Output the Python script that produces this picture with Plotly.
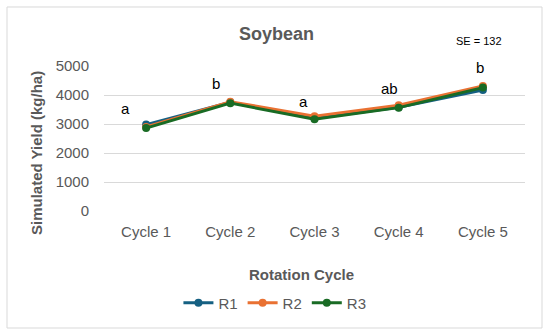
import plotly.graph_objects as go

categories = ["Cycle 1", "Cycle 2", "Cycle 3", "Cycle 4", "Cycle 5"]
r1 = [2980, 3750, 3200, 3580, 4170]
r2 = [2900, 3770, 3270, 3650, 4310]
r3 = [2860, 3720, 3165, 3565, 4255]
letters = ["a", "b", "a", "ab", "b"]
y_ticks = [0, 1000, 2000, 3000, 4000, 5000]

FONT = "Liberation Sans"
GRAY = "#595959"

fig = go.Figure()
for name, vals, color in [("R1", r1, "#156082"), ("R2", r2, "#E97132"), ("R3", r3, "#196B24")]:
    fig.add_trace(go.Scatter(
        x=categories, y=vals, name=name, mode="lines+markers",
        line=dict(color=color, width=3), marker=dict(color=color, size=8),
    ))

# letter annotation placement (pixel offsets / heights above points)
letter_y = [3550, 4410, 3790, 4240, 4960]
letter_dx = [-21, -14, -11, -9, -3]
annotations = []
for cat, lab, ly, dx in zip(categories, letters, letter_y, letter_dx):
    annotations.append(dict(x=cat, y=ly, xref="x", yref="y", text=lab, showarrow=False,
                            xshift=dx, font=dict(family=FONT, size=15, color="#000000")))

annotations += [
    dict(x=0.4086, y=1.2207, xref="paper", yref="paper", text="<b>Soybean</b>", showarrow=False,
         xanchor="center", yanchor="middle", font=dict(family=FONT, size=18, color=GRAY)),
    dict(x=0.8907, y=1.1724, xref="paper", yref="paper", text="SE = 132", showarrow=False,
         xanchor="center", yanchor="middle", font=dict(family=FONT, size=11, color="#000000")),
    dict(x=0.468, y=-0.4345, xref="paper", yref="paper", text="<b>Rotation Cycle</b>", showarrow=False,
         xanchor="center", yanchor="middle", font=dict(family=FONT, size=15, color=GRAY)),
    dict(x=-0.1615, y=0.40, xref="paper", yref="paper", text="<b>Simulated Yield (kg/ha)</b>", showarrow=False,
         textangle=-90, xanchor="center", yanchor="middle", font=dict(family=FONT, size=15, color=GRAY)),
]

fig.update_layout(
    width=550, height=336,
    margin=dict(l=104, r=25, t=66, b=125, autoexpand=False),
    paper_bgcolor="white", plot_bgcolor="white",
    font=dict(family=FONT, size=15, color=GRAY),
    showlegend=True,
    legend=dict(orientation="h", x=0.406, y=-0.634, xanchor="center", yanchor="middle",
                font=dict(family=FONT, size=15, color=GRAY), itemwidth=30, tracegroupgap=0),
    annotations=annotations,
    shapes=[dict(type="rect", xref="paper", yref="paper", x0=-0.2304, x1=1.0404, y0=-0.8069, y1=1.4069,
                 line=dict(color="#d9d9d9", width=1), fillcolor="rgba(0,0,0,0)", layer="below")],
)
fig.update_xaxes(range=[-0.5, 4.5], showgrid=False, zeroline=False, showline=False, ticks="", automargin=False,
                 ticklabelstandoff=10, tickfont=dict(family=FONT, size=15, color=GRAY))
fig.update_yaxes(range=[0, 5000.5], tickvals=y_ticks, showgrid=True, gridcolor="#d9d9d9", gridwidth=1,
                 zeroline=False, showline=False, ticks="", ticklabelstandoff=14, automargin=False,
                 tickfont=dict(family=FONT, size=15, color=GRAY))

fig.write_html("out.html", config={"displayModeBar": False},
               post_script="document.body.style.margin='0';document.body.style.padding='0';")
